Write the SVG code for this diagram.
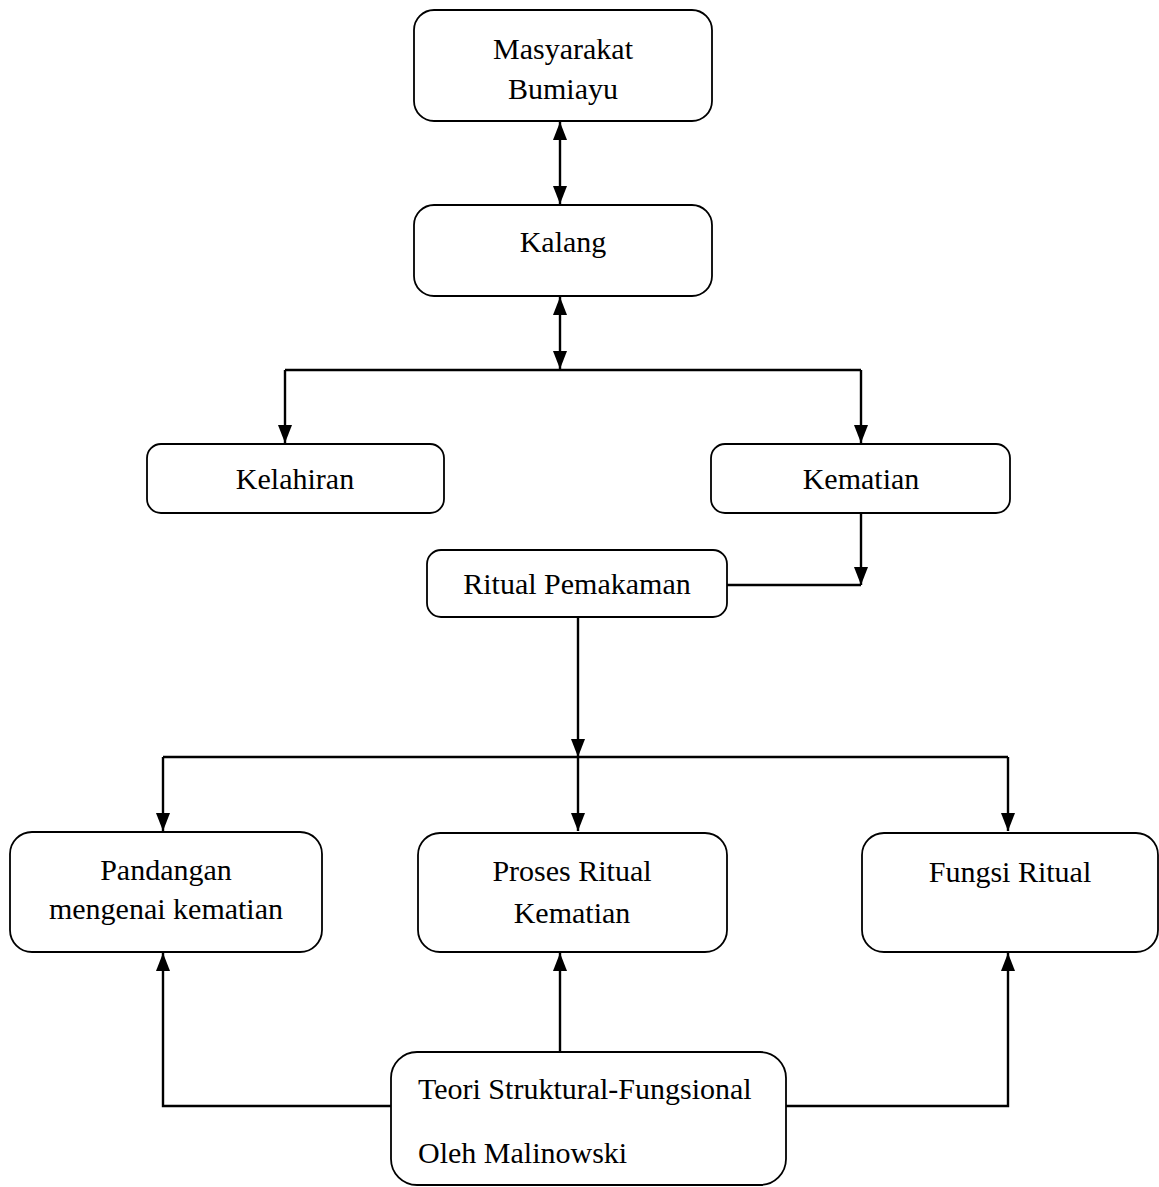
<svg xmlns="http://www.w3.org/2000/svg" width="1159" height="1187" viewBox="0 0 1159 1187">
<style>
.box{fill:#fff;stroke:#000;stroke-width:1.8}
.ln{fill:none;stroke:#000;stroke-width:2.4}
text{font-family:"Liberation Serif","Times New Roman",serif;font-size:30px;fill:#000}
.c{text-anchor:middle;dominant-baseline:central}
.l{dominant-baseline:central}
</style>
<defs>
<marker id="ah" viewBox="0 0 18 14" refX="18" refY="7" markerWidth="18" markerHeight="14" markerUnits="userSpaceOnUse" orient="auto-start-reverse">
<path d="M0 0L18 7L0 14z" fill="#000"/>
</marker>
</defs>
<rect width="1159" height="1187" fill="#fff"/>
<g id="connectors">
<path class="ln" d="M560 122V204" marker-start="url(#ah)" marker-end="url(#ah)"/>
<path class="ln" d="M560 297V369" marker-start="url(#ah)" marker-end="url(#ah)"/>
<path class="ln" d="M285 370H861"/>
<path class="ln" d="M285 370V443" marker-end="url(#ah)"/>
<path class="ln" d="M861 370V443" marker-end="url(#ah)"/>
<path class="ln" d="M861 513V585" marker-end="url(#ah)"/>
<path class="ln" d="M727 585H861"/>
<path class="ln" d="M578 617V757" marker-end="url(#ah)"/>
<path class="ln" d="M163 757H1008"/>
<path class="ln" d="M163 757V831" marker-end="url(#ah)"/>
<path class="ln" d="M578 757V831" marker-end="url(#ah)"/>
<path class="ln" d="M1008 757V831" marker-end="url(#ah)"/>
<path class="ln" d="M403 1106H163V953" marker-end="url(#ah)"/>
<path class="ln" d="M560 1052V953" marker-end="url(#ah)"/>
<path class="ln" d="M786 1106H1008V953" marker-end="url(#ah)"/>
</g>
<g id="n-masyarakat"><rect class="box" x="414" y="10" width="298" height="111" rx="20"/><text class="c" x="563" y="48">Masyarakat</text><text class="c" x="563" y="88">Bumiayu</text></g>
<g id="n-kalang"><rect class="box" x="414" y="205" width="298" height="91" rx="20"/><text class="c" x="563" y="241">Kalang</text></g>
<g id="n-kelahiran"><rect class="box" x="147" y="444" width="297" height="69" rx="14"/><text class="c" x="295" y="478">Kelahiran</text></g>
<g id="n-kematian"><rect class="box" x="711" y="444" width="299" height="69" rx="14"/><text class="c" x="861" y="478">Kematian</text></g>
<g id="n-ritual"><rect class="box" x="427" y="550" width="300" height="67" rx="14"/><text class="c" x="577" y="583">Ritual Pemakaman</text></g>
<g id="n-pandangan"><rect class="box" x="10" y="832" width="312" height="120" rx="22"/><text class="c" x="166" y="869">Pandangan</text><text class="c" x="166" y="908">mengenai kematian</text></g>
<g id="n-proses"><rect class="box" x="418" y="833" width="309" height="119" rx="22"/><text class="c" x="572" y="870">Proses Ritual</text><text class="c" x="572" y="912">Kematian</text></g>
<g id="n-fungsi"><rect class="box" x="862" y="833" width="296" height="119" rx="22"/><text class="c" x="1010" y="871">Fungsi Ritual</text></g>
<g id="n-teori"><rect class="box" x="391" y="1052" width="395" height="133" rx="26"/><text class="l" x="418" y="1088">Teori Struktural-Fungsional</text><text class="l" x="418" y="1152">Oleh Malinowski</text></g>
</svg>
